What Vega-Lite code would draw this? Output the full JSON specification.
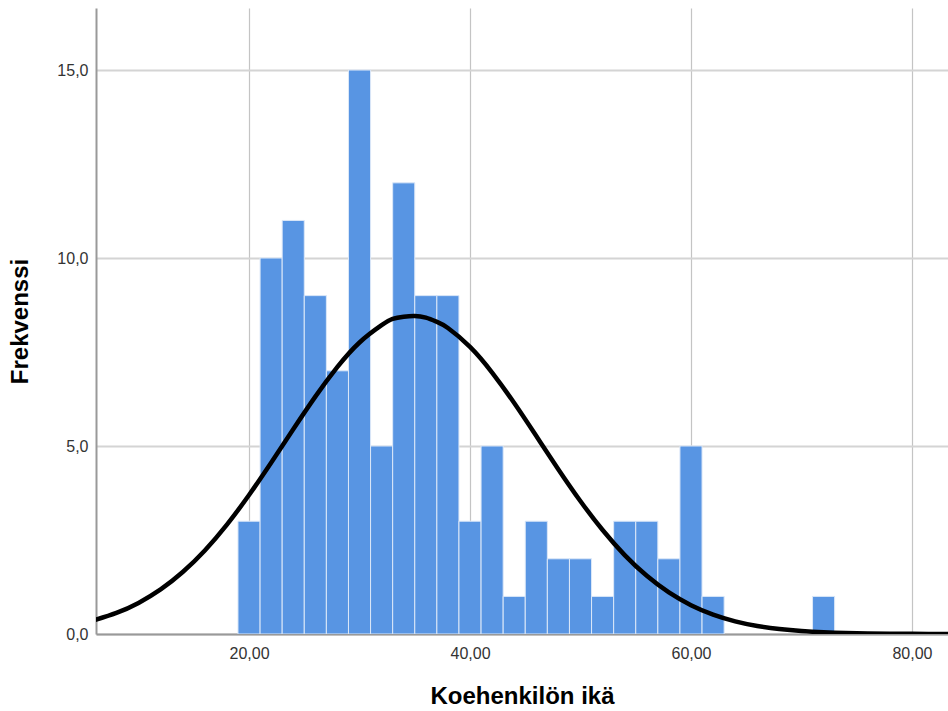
{
  "$schema": "https://vega.github.io/schema/vega-lite/v6.json",
  "autosize": "none",
  "width": 852,
  "height": 626,
  "padding": {"left": 96, "top": 8, "right": 0, "bottom": 77},
  "background": "white",
  "config": {
    "view": {"stroke": null},
    "font": "Liberation Sans"
  },
  "datasets": {
    "bins": [
      {"start": 19, "end": 21, "count": 3},
      {"start": 21, "end": 23, "count": 10},
      {"start": 23, "end": 25, "count": 11},
      {"start": 25, "end": 27, "count": 9},
      {"start": 27, "end": 29, "count": 7},
      {"start": 29, "end": 31, "count": 15},
      {"start": 31, "end": 33, "count": 5},
      {"start": 33, "end": 35, "count": 12},
      {"start": 35, "end": 37, "count": 9},
      {"start": 37, "end": 39, "count": 9},
      {"start": 39, "end": 41, "count": 3},
      {"start": 41, "end": 43, "count": 5},
      {"start": 43, "end": 45, "count": 1},
      {"start": 45, "end": 47, "count": 3},
      {"start": 47, "end": 49, "count": 2},
      {"start": 49, "end": 51, "count": 2},
      {"start": 51, "end": 53, "count": 1},
      {"start": 53, "end": 55, "count": 3},
      {"start": 55, "end": 57, "count": 3},
      {"start": 57, "end": 59, "count": 2},
      {"start": 59, "end": 61, "count": 5},
      {"start": 61, "end": 63, "count": 1},
      {"start": 71, "end": 73, "count": 1}
    ],
    "curve": [
      {"x": 6, "y": 0.368}, {"x": 8, "y": 0.560}, {"x": 10, "y": 0.827},
      {"x": 12, "y": 1.185}, {"x": 14, "y": 1.648}, {"x": 16, "y": 2.223},
      {"x": 18, "y": 2.910}, {"x": 20, "y": 3.696}, {"x": 22, "y": 4.554},
      {"x": 24, "y": 5.443}, {"x": 26, "y": 6.313}, {"x": 28, "y": 7.103},
      {"x": 30, "y": 7.754}, {"x": 32, "y": 8.213}, {"x": 33, "y": 8.380},
      {"x": 34, "y": 8.440}, {"x": 35, "y": 8.460}, {"x": 36, "y": 8.414},
      {"x": 37, "y": 8.305}, {"x": 38, "y": 8.139}, {"x": 40, "y": 7.638},
      {"x": 42, "y": 6.954}, {"x": 44, "y": 6.143}, {"x": 46, "y": 5.265},
      {"x": 48, "y": 4.378}, {"x": 50, "y": 3.532}, {"x": 52, "y": 2.765},
      {"x": 54, "y": 2.099}, {"x": 56, "y": 1.547}, {"x": 58, "y": 1.106},
      {"x": 60, "y": 0.767}, {"x": 62, "y": 0.516}, {"x": 64, "y": 0.337},
      {"x": 66, "y": 0.213}, {"x": 68, "y": 0.131}, {"x": 70, "y": 0.078},
      {"x": 72, "y": 0.045}, {"x": 74, "y": 0.025}, {"x": 76, "y": 0.014},
      {"x": 78, "y": 0.007}, {"x": 80, "y": 0.004}, {"x": 82, "y": 0.002},
      {"x": 84, "y": 0.001}
    ]
  },
  "layer": [
    {
      "data": {"name": "bins"},
      "mark": {"type": "bar", "color": "#5895e3", "stroke": "#dce8f8", "strokeWidth": 1, "clip": true},
      "encoding": {
        "x": {
          "field": "start", "type": "quantitative",
          "scale": {"domain": [6.15, 83.26], "nice": false, "zero": false},
          "axis": {
            "values": [20, 40, 60, 80],
            "title": "Koehenkilön ikä",
            "titleFont": "Liberation Sans", "titleFontSize": 24, "titleFontWeight": "bold",
            "titleColor": "#000000", "titlePadding": 23,
            "labelExpr": "replace(format(datum.value, '.2f'), '.', ',')",
            "labelFont": "Liberation Sans", "labelFontSize": 16, "labelColor": "#333333",
            "labelPadding": 11,
            "ticks": false,
            "domain": true, "domainColor": "#999999", "domainWidth": 2,
            "grid": true, "gridColor": "#c4c4c4", "gridWidth": 1.2
          }
        },
        "x2": {"field": "end"},
        "y": {
          "field": "count", "type": "quantitative",
          "scale": {"domain": [0, 16.65], "nice": false},
          "axis": {
            "values": [0, 5, 10, 15],
            "title": "Frekvenssi",
            "titleFont": "Liberation Sans", "titleFontSize": 24, "titleFontWeight": "bold",
            "titleColor": "#000000", "titlePadding": 24,
            "labelExpr": "replace(format(datum.value, '.1f'), '.', ',')",
            "labelFont": "Liberation Sans", "labelFontSize": 16, "labelColor": "#333333",
            "labelPadding": 8,
            "ticks": false,
            "domain": true, "domainColor": "#999999", "domainWidth": 2,
            "grid": true, "gridColor": "#d4d4d4", "gridWidth": 2
          }
        },
        "y2": {"datum": 0}
      }
    },
    {
      "data": {"name": "curve"},
      "mark": {"type": "line", "color": "#000000", "strokeWidth": 4.5, "interpolate": "natural", "clip": true},
      "encoding": {
        "x": {"field": "x", "type": "quantitative"},
        "y": {"field": "y", "type": "quantitative"}
      }
    }
  ]
}
